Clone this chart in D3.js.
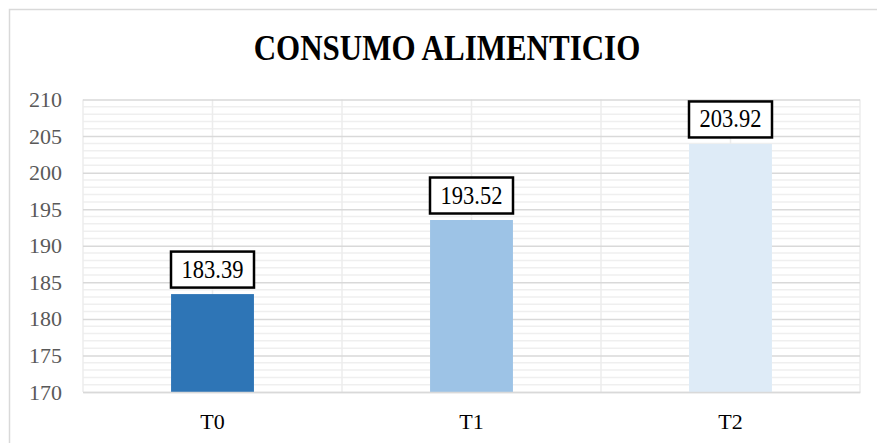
<!DOCTYPE html>
<html>
<head>
<meta charset="utf-8">
<script src="https://cdn.jsdelivr.net/npm/d3@7"></script>
<style>
  body { margin: 0; background: #fff; }
  svg { display: block; }
</style>
</head>
<body>
<div id="chart"></div>
<script>
var svgWidth = 877;
var svgHeight = 443;

// chart data
var categories = ["T0", "T1", "T2"];
var values = [183.39, 193.52, 203.92];
var barColors = ["#2E75B6", "#9DC3E6", "#DEEBF7"];
var yTicks = [170, 175, 180, 185, 190, 195, 200, 205, 210];

var margin = { top: 99.5, right: 17, bottom: 51, left: 83 };
var width = svgWidth - margin.left - margin.right;
var height = svgHeight - margin.top - margin.bottom;

var svg = d3.select("#chart")
  .append("svg")
  .attr("width", svgWidth)
  .attr("height", svgHeight);

// outer chart frame (runs past the right/bottom edge)
svg.append("rect")
  .attr("x", 9.5)
  .attr("y", 9.5)
  .attr("width", svgWidth + 20)
  .attr("height", svgHeight + 20)
  .attr("fill", "none")
  .attr("stroke", "#d9d9d9")
  .attr("stroke-width", 1.5);

// title, slightly stretched vertically like the original
svg.append("text")
  .attr("transform", "translate(447, 60) scale(1, 1.18)")
  .attr("text-anchor", "middle")
  .style("font-family", "'Liberation Serif', 'Times New Roman', serif")
  .style("font-weight", "bold")
  .style("font-size", "31px")
  .style("fill", "#000")
  .text("CONSUMO ALIMENTICIO");

var chartGroup = svg.append("g")
  .attr("transform", `translate(${margin.left}, ${margin.top})`);

var xScale = d3.scaleBand()
  .domain(categories)
  .range([0, width])
  .paddingInner(0.68)
  .paddingOuter(0.34);

var xBand = d3.scaleBand()
  .domain(categories)
  .range([0, width]);

var yScale = d3.scaleLinear()
  .domain([170, 210])
  .range([height, 0]);

// minor horizontal gridlines (every 1 unit)
chartGroup.append("g")
  .selectAll("line")
  .data(d3.range(171, 210).filter(d => d % 5 !== 0))
  .enter()
  .append("line")
  .attr("x1", 0)
  .attr("x2", width)
  .attr("y1", d => yScale(d))
  .attr("y2", d => yScale(d))
  .attr("stroke", "#efefef")
  .attr("stroke-width", 1.5);

// vertical gridlines at category centres and boundaries
var vLines = [];
categories.forEach(function(c) {
  vLines.push(xBand(c));
  vLines.push(xBand(c) + xBand.bandwidth() / 2);
});
vLines.push(width);
chartGroup.append("g")
  .selectAll("line")
  .data(vLines)
  .enter()
  .append("line")
  .attr("x1", d => d)
  .attr("x2", d => d)
  .attr("y1", 0)
  .attr("y2", height)
  .attr("stroke", "#ececec")
  .attr("stroke-width", 1.5);

// major horizontal gridlines
var leftAxis = d3.axisLeft(yScale)
  .tickValues(yTicks)
  .tickSize(-width)
  .tickPadding(21);

var yAxis = chartGroup.append("g").call(leftAxis);
yAxis.select(".domain").remove();
yAxis.selectAll(".tick line")
  .attr("stroke", "#d9d9d9")
  .attr("stroke-width", 1.5);
yAxis.selectAll(".tick text")
  .style("font-family", "'Liberation Serif', 'Times New Roman', serif")
  .style("font-size", "22px")
  .style("fill", "#595959");

// bars
chartGroup.selectAll("rect.bar")
  .data(values)
  .enter()
  .append("rect")
  .attr("class", "bar")
  .attr("x", (d, i) => xScale(categories[i]))
  .attr("y", d => yScale(d))
  .attr("width", xScale.bandwidth())
  .attr("height", d => height - yScale(d))
  .attr("fill", (d, i) => barColors[i]);

// category axis
var bottomAxis = d3.axisBottom(xBand).tickSize(0).tickPadding(21);
var xAxis = chartGroup.append("g")
  .attr("transform", `translate(0, ${height})`)
  .call(bottomAxis);
xAxis.select(".domain")
  .attr("stroke", "#d9d9d9")
  .attr("stroke-width", 1.5);
xAxis.selectAll(".tick text")
  .style("font-family", "'Liberation Serif', 'Times New Roman', serif")
  .style("font-size", "22px")
  .style("fill", "#000");

// data labels in boxes
var labels = chartGroup.selectAll("g.label")
  .data(values)
  .enter()
  .append("g")
  .attr("class", "label")
  .attr("transform", (d, i) => `translate(${xBand(categories[i]) + xBand.bandwidth() / 2}, ${yScale(d) - 6.5})`);

labels.append("rect")
  .attr("x", -41.5)
  .attr("y", -36)
  .attr("width", 83)
  .attr("height", 36)
  .attr("fill", "#fff")
  .attr("stroke", "#000")
  .attr("stroke-width", 2.5);

labels.append("text")
  .attr("transform", "translate(0, -10) scale(1, 1.08)")
  .attr("text-anchor", "middle")
  .style("font-family", "'Liberation Serif', 'Times New Roman', serif")
  .style("font-size", "22.5px")
  .style("fill", "#000")
  .text(d => d.toFixed(2));
</script>
</body>
</html>
